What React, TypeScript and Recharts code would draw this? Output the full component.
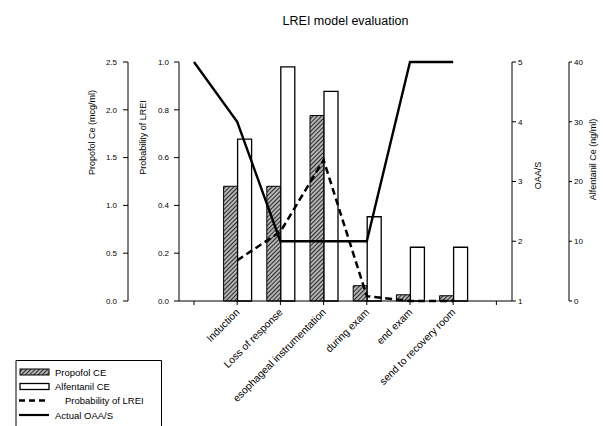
import React from "react";
import { ComposedChart, Bar, Line, XAxis, YAxis } from "recharts";

const categories = [
  "",
  "Induction",
  "Loss of response",
  "esophageal instrumentation",
  "during exam",
  "end exam",
  "send to recovery room",
  " ",
];
const propofolCe = [null, 1.2, 1.2, 1.94, 0.16, 0.065, 0.055, null];
const alfentanilCe = [null, 27.1, 39.2, 35.1, 14.1, 9, 9, null];
const probabilityLrei = [null, 0.17, 0.29, 0.59, 0.02, 0, 0, null];
const actualOaas = [5, 4, 2, 2, 2, 5, 5, null];

const propofolTicks = [0, 0.5, 1, 1.5, 2, 2.5];
const probabilityTicks = [0, 0.2, 0.4, 0.6, 0.8, 1];
const oaasTicks = [1, 2, 3, 4, 5];
const alfentanilTicks = [0, 10, 20, 30, 40];

const legendLabels = ["Propofol CE", "Alfentanil CE", "Probability of LREI", "Actual OAA/S"];

const data = categories.map((name, i) => ({
  name,
  propofol: propofolCe[i],
  alfentanil: alfentanilCe[i],
  probability: probabilityLrei[i],
  oaas: actualOaas[i],
}));

const FONT = "'Liberation Sans', Arial, sans-serif";
const tickStyle = { fontSize: 8, fill: "#000", fontFamily: FONT };

// rotated axis title, dx from the axis box left edge, dy from its middle
const axisTitle = (text: string, dx: number, dy: number) => (props: any) => {
  const vb = props.viewBox || {};
  const cx = vb.x + dx;
  const cy = vb.y + vb.height / 2 + dy;
  return (
    <text
      x={cx}
      y={cy}
      transform={`rotate(-90 ${cx} ${cy})`}
      textAnchor="middle"
      dominantBaseline="central"
      fontSize={9}
      fontFamily={FONT}
      fill="#000"
    >
      {text}
    </text>
  );
};

const CategoryTick = (props: any) => {
  const { x, y, payload } = props;
  const tx = x + 3;
  const ty = y + 6;
  return (
    <text
      x={tx}
      y={ty}
      transform={`rotate(-45 ${tx} ${ty})`}
      textAnchor="end"
      fontSize={10.3}
      fontFamily={FONT}
      fill="#000"
    >
      {payload.value}
    </text>
  );
};

const Hatch = ({ id }: { id: string }) => (
  <pattern id={id} patternUnits="userSpaceOnUse" width={3} height={3} patternTransform="rotate(45)">
    <rect width={3} height={3} fill="#b4b4b4" />
    <line x1={0} y1={0} x2={0} y2={3} stroke="#1a1a1a" strokeWidth={1.8} />
  </pattern>
);

const LegendBox = () => (
  <svg width={150} height={70} style={{ position: "absolute", left: 15, top: 359 }}>
    <defs>
      <Hatch id="hatchLegend" />
    </defs>
    <path d="M1 70 V1.5 H146.5 V70" fill="none" stroke="#000" strokeWidth={1} />
    <rect x={5} y={10} width={29} height={6} fill="url(#hatchLegend)" stroke="#000" strokeWidth={1} />
    <rect x={5} y={24.5} width={29} height={6} fill="#fff" stroke="#000" strokeWidth={1.3} />
    <line x1={4} y1={41.5} x2={34} y2={41.5} stroke="#000" strokeWidth={2.5} strokeDasharray="6 4" />
    <line x1={4} y1={56} x2={34} y2={56} stroke="#000" strokeWidth={2.2} />
    {legendLabels.map((label, i) => (
      <text
        key={label}
        x={i === 2 ? 50 : 40}
        y={13 + i * 14.4}
        dominantBaseline="central"
        fontSize={9.5}
        fontFamily={FONT}
        fill="#000"
      >
        {label}
      </text>
    ))}
  </svg>
);

export default function App() {
  return (
    <div style={{ position: "absolute", left: 0, top: 0, width: 603, height: 426, background: "#fff" }}>
      <div
        style={{
          position: "absolute",
          left: 0,
          width: 691,
          top: 14,
          textAlign: "center",
          fontFamily: FONT,
          fontSize: 12.5,
          color: "#000",
        }}
      >
        LREI model evaluation
      </div>
      <ComposedChart
        width={603}
        height={426}
        data={data}
        margin={{ top: 62, right: 4, bottom: 0, left: 56 }}
        barGap={0}
        barSize={14}
      >
        <defs>
          <Hatch id="hatch" />
        </defs>
        <XAxis
          dataKey="name"
          interval={0}
          height={125}
          padding={{ left: -6.6, right: -6 }}
          tickSize={4}
          tickLine={{ stroke: "#000" }}
          axisLine={{ stroke: "#000" }}
          tick={<CategoryTick />}
        />
        <YAxis
          yAxisId="l1prob"
          orientation="left"
          width={51}
          domain={[0, 1]}
          ticks={probabilityTicks}
          interval={0}
          tickFormatter={(v: number) => v.toFixed(1)}
          tickSize={5}
          tickMargin={5}
          tick={tickStyle}
          tickLine={{ stroke: "#000" }}
          axisLine={{ stroke: "#000" }}
          label={{ content: axisTitle("Probability of LREI", 15, -44) }}
        />
        <YAxis
          yAxisId="l2prop"
          orientation="left"
          width={72}
          domain={[0, 2.5]}
          ticks={propofolTicks}
          interval={0}
          tickFormatter={(v: number) => v.toFixed(1)}
          tickSize={5}
          tickMargin={6}
          tick={tickStyle}
          tickLine={{ stroke: "#000" }}
          axisLine={{ stroke: "#000" }}
          label={{ content: axisTitle("Propofol Ce (mcg/ml)", 36, -49) }}
        />
        <YAxis
          yAxisId="r1oaas"
          orientation="right"
          width={57}
          domain={[1, 5]}
          ticks={oaasTicks}
          interval={0}
          tickSize={4}
          tickMargin={2}
          tick={tickStyle}
          tickLine={{ stroke: "#000" }}
          axisLine={{ stroke: "#000" }}
          label={{ content: axisTitle("OAA/S", 26, -6) }}
        />
        <YAxis
          yAxisId="r2alf"
          orientation="right"
          width={30}
          domain={[0, 40]}
          ticks={alfentanilTicks}
          interval={0}
          tickSize={3}
          tickMargin={2}
          tick={tickStyle}
          tickLine={{ stroke: "#000" }}
          axisLine={{ stroke: "#000" }}
          label={{ content: axisTitle("Alfentanil Ce (ng/ml)", 24, -22) }}
        />
        <Bar
          yAxisId="l2prop"
          dataKey="propofol"
          fill="url(#hatch)"
          stroke="#000"
          strokeWidth={1}
          isAnimationActive={false}
        />
        <Bar
          yAxisId="r2alf"
          dataKey="alfentanil"
          fill="#fff"
          stroke="#000"
          strokeWidth={1.3}
          isAnimationActive={false}
        />
        <Line
          yAxisId="l1prob"
          type="linear"
          dataKey="probability"
          stroke="#000"
          strokeWidth={2.5}
          strokeDasharray="7 4"
          dot={false}
          isAnimationActive={false}
        />
        <Line
          yAxisId="r1oaas"
          type="linear"
          dataKey="oaas"
          stroke="#000"
          strokeWidth={2.4}
          dot={false}
          isAnimationActive={false}
        />
      </ComposedChart>
      <LegendBox />
    </div>
  );
}
